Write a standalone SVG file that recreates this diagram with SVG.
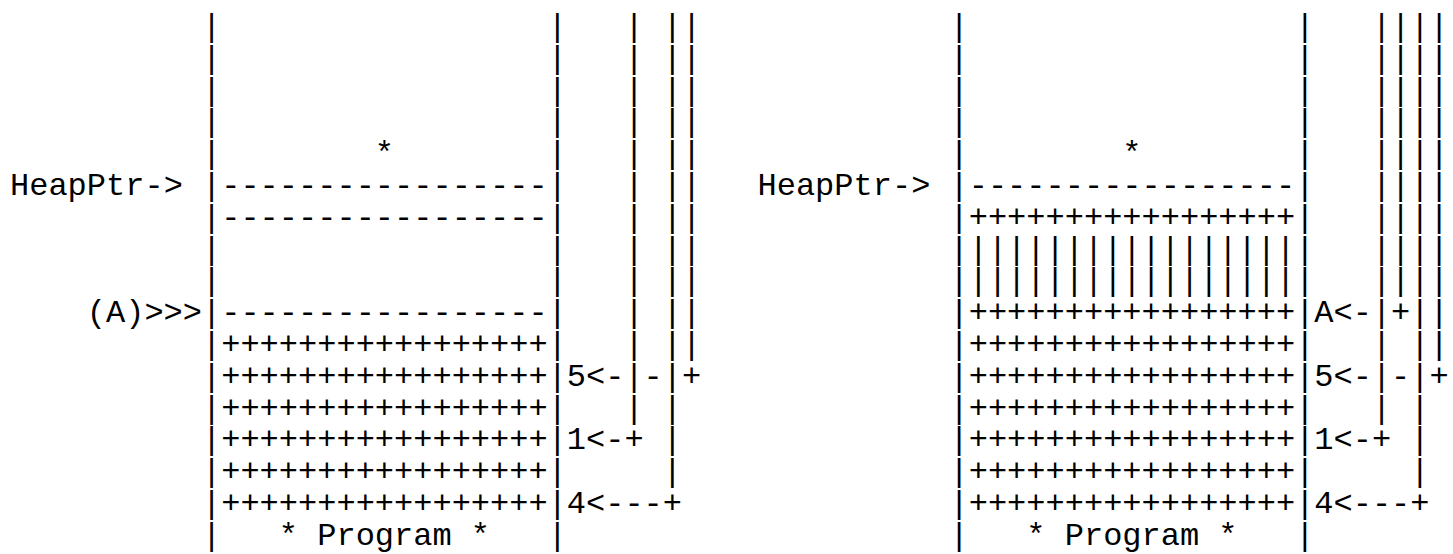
<svg xmlns="http://www.w3.org/2000/svg" width="1453" height="554" viewBox="0 0 1453 554" xml:space="preserve">
<style>
text { font-family: "Liberation Mono", "Courier New", "DejaVu Sans Mono", monospace; font-size: 32px; fill: #000; white-space: pre; }
</style>
<rect width="1453" height="554" fill="#fff"/>
<g id="left-diagram">
  <g id="left-heapptr-label"><text x="10" y="195">HeapPtr-&gt;</text></g>
  <g id="left-a-label"><text x="86.8" y="322.2">(A)&gt;&gt;&gt;</text></g>
  <g id="left-memory">
    <text><tspan x="202" y="36">|                 |</tspan><tspan x="202" y="67.8">|                 |</tspan><tspan x="202" y="99.6">|                 |</tspan><tspan x="202" y="131.4">|                 |</tspan><tspan x="202" y="163.2">|        *        |</tspan><tspan x="202" y="195">|-----------------|</tspan><tspan x="202" y="226.8">|-----------------|</tspan><tspan x="202" y="258.6">|                 |</tspan><tspan x="202" y="290.4">|                 |</tspan><tspan x="202" y="322.2">|-----------------|</tspan><tspan x="202" y="354">|+++++++++++++++++|</tspan><tspan x="202" y="385.8">|+++++++++++++++++|</tspan><tspan x="202" y="417.6">|+++++++++++++++++|</tspan><tspan x="202" y="449.4">|+++++++++++++++++|</tspan><tspan x="202" y="481.2">|+++++++++++++++++|</tspan><tspan x="202" y="513">|+++++++++++++++++|</tspan><tspan x="202" y="544.8">|   * Program *   |</tspan></text>
  </g>
  <g id="left-connectors">
    <text><tspan x="566.8" y="36">   | ||</tspan><tspan x="566.8" y="67.8">   | ||</tspan><tspan x="566.8" y="99.6">   | ||</tspan><tspan x="566.8" y="131.4">   | ||</tspan><tspan x="566.8" y="163.2">   | ||</tspan><tspan x="566.8" y="195">   | ||</tspan><tspan x="566.8" y="226.8">   | ||</tspan><tspan x="566.8" y="258.6">   | ||</tspan><tspan x="566.8" y="290.4">   | ||</tspan><tspan x="566.8" y="322.2">   | ||</tspan><tspan x="566.8" y="354">   | ||</tspan><tspan x="566.8" y="385.8">5&lt;-|-|+</tspan><tspan x="566.8" y="417.6">   | |</tspan><tspan x="566.8" y="449.4">1&lt;-+ |</tspan><tspan x="566.8" y="481.2">     |</tspan><tspan x="566.8" y="513">4&lt;---+</tspan></text>
  </g>
</g>
<g id="right-diagram">
  <g id="right-heapptr-label"><text x="757.5" y="195">HeapPtr-&gt;</text></g>
  <g id="right-memory">
    <text><tspan x="949.5" y="36">|                 |</tspan><tspan x="949.5" y="67.8">|                 |</tspan><tspan x="949.5" y="99.6">|                 |</tspan><tspan x="949.5" y="131.4">|                 |</tspan><tspan x="949.5" y="163.2">|        *        |</tspan><tspan x="949.5" y="195">|-----------------|</tspan><tspan x="949.5" y="226.8">|+++++++++++++++++|</tspan><tspan x="949.5" y="258.6">|||||||||||||||||||</tspan><tspan x="949.5" y="290.4">|||||||||||||||||||</tspan><tspan x="949.5" y="322.2">|+++++++++++++++++|</tspan><tspan x="949.5" y="354">|+++++++++++++++++|</tspan><tspan x="949.5" y="385.8">|+++++++++++++++++|</tspan><tspan x="949.5" y="417.6">|+++++++++++++++++|</tspan><tspan x="949.5" y="449.4">|+++++++++++++++++|</tspan><tspan x="949.5" y="481.2">|+++++++++++++++++|</tspan><tspan x="949.5" y="513">|+++++++++++++++++|</tspan><tspan x="949.5" y="544.8">|   * Program *   |</tspan></text>
  </g>
  <g id="right-connectors">
    <text><tspan x="1314.3" y="36">   ||||</tspan><tspan x="1314.3" y="67.8">   ||||</tspan><tspan x="1314.3" y="99.6">   ||||</tspan><tspan x="1314.3" y="131.4">   ||||</tspan><tspan x="1314.3" y="163.2">   ||||</tspan><tspan x="1314.3" y="195">   ||||</tspan><tspan x="1314.3" y="226.8">   ||||</tspan><tspan x="1314.3" y="258.6">   ||||</tspan><tspan x="1314.3" y="290.4">   ||||</tspan><tspan x="1314.3" y="322.2">A&lt;-|+||</tspan><tspan x="1314.3" y="354">   | ||</tspan><tspan x="1314.3" y="385.8">5&lt;-|-|+</tspan><tspan x="1314.3" y="417.6">   | |</tspan><tspan x="1314.3" y="449.4">1&lt;-+ |</tspan><tspan x="1314.3" y="481.2">     |</tspan><tspan x="1314.3" y="513">4&lt;---+</tspan></text>
  </g>
</g>
</svg>
